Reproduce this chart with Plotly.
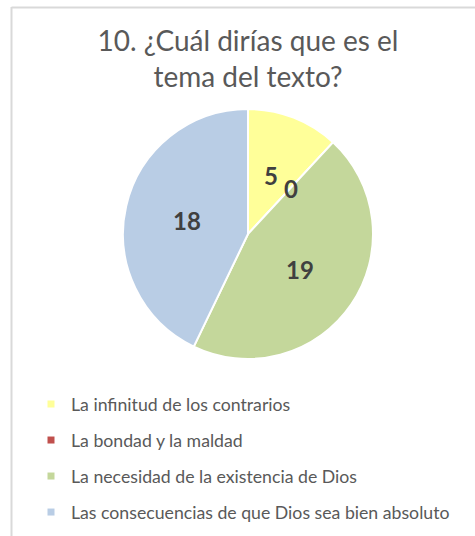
import math
import plotly.graph_objects as go

W, H = 475, 536

title_text = "10. ¿Cuál dirías que es el<br>tema del texto?"
categories = [
    "La infinitud de los contrarios",
    "La bondad y la maldad",
    "La necesidad de la existencia de Dios",
    "Las consecuencias de que Dios sea bien absoluto",
]
values = [5, 0, 19, 18]
colors = ["#FFFF99", "#C0504D", "#C4D79B", "#B9CDE5"]

# pie geometry (pixels)
px0, px1 = 123, 373
py0, py1 = 109, 359
cx, cy = (px0 + px1) / 2, (py0 + py1) / 2
R = (px1 - px0) / 2

fig = go.Figure()
fig.add_trace(go.Pie(
    labels=categories, values=values, sort=False, direction="clockwise",
    rotation=0, textinfo="none", hoverinfo="label+value",
    marker=dict(colors=colors, line=dict(color="white", width=2)),
    domain=dict(x=[px0 / W, px1 / W], y=[1 - py1 / H, 1 - py0 / H]),
    showlegend=False,
))

# legend entries
for cat, col in zip(categories, colors):
    fig.add_trace(go.Scatter(
        x=[None], y=[None], mode="markers", name=cat, legendgroup=cat,
        marker=dict(symbol="square", size=7, color=col),
        showlegend=True, hoverinfo="skip",
    ))

# data labels at mid-angle of each slice
total = sum(values)
annotations = []
cum = 0
for v in values:
    mid = (cum + v / 2) / total * 2 * math.pi
    cum += v
    x = cx + 0.5 * R * math.sin(mid)
    y = cy - 0.5 * R * math.cos(mid)
    annotations.append(dict(
        x=x / W, y=1 - y / H, xref="paper", yref="paper", text=f"<b>{v}</b>",
        showarrow=False, font=dict(family="Lato", size=24, color="#404040"),
        xanchor="center", yanchor="middle",
    ))

fig.update_layout(
    width=W, height=H,
    margin=dict(l=0, r=0, t=0, b=0),
    paper_bgcolor="white", plot_bgcolor="white",
    title=dict(text=title_text, x=248 / W, xanchor="center", xref="paper",
               y=1 - 51 / H, yanchor="top", yref="paper",
               font=dict(family="Lato", size=28, color="#595959")),
    xaxis=dict(visible=False), yaxis=dict(visible=False),
    legend=dict(x=31 / W, xanchor="left", y=1 - 386 / H, yanchor="top",
                font=dict(family="Lato", size=17.7, color="#595959"),
                tracegroupgap=10, bgcolor="rgba(0,0,0,0)"),
    annotations=annotations,
    shapes=[
        dict(type="line", xref="paper", yref="paper", x0=11.5 / W, x1=11.5 / W,
             y0=0, y1=1 - 7 / H, line=dict(color="#D9D9D9", width=2)),
        dict(type="line", xref="paper", yref="paper", x0=11.5 / W, x1=1,
             y0=1 - 7.5 / H, y1=1 - 7.5 / H, line=dict(color="#D9D9D9", width=2)),
    ],
)

fig.write_html("out.html", config={"displayModeBar": False},
               post_script="document.body.style.margin='0';")
